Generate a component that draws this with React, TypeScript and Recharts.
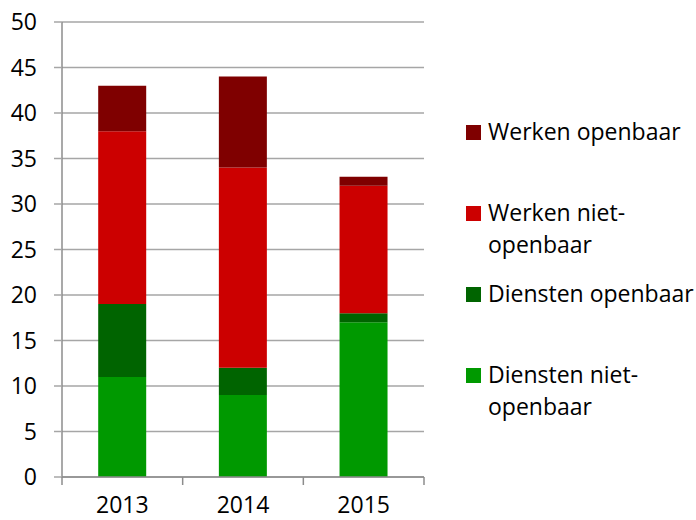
import { BarChart, Bar, XAxis, YAxis, CartesianGrid } from "recharts";

// ─── Data ────────────────────────────────────────────────────────────────────

const years = ["2013", "2014", "2015"];
const dienstenNietOpenbaar = [11, 9, 17];
const dienstenOpenbaar = [8, 3, 1];
const werkenNietOpenbaar = [19, 22, 14];
const werkenOpenbaar = [5, 10, 1];
const yTicks = [0, 5, 10, 15, 20, 25, 30, 35, 40, 45, 50];

const SERIES = [
  { key: "Diensten niet-openbaar", values: dienstenNietOpenbaar, color: "#009900" },
  { key: "Diensten openbaar", values: dienstenOpenbaar, color: "#006400" },
  { key: "Werken niet-openbaar", values: werkenNietOpenbaar, color: "#cc0000" },
  { key: "Werken openbaar", values: werkenOpenbaar, color: "#7f0000" },
];

const data = years.map((year, i) => {
  const row: Record<string, string | number> = { year };
  SERIES.forEach((s) => {
    row[s.key] = s.values[i];
  });
  return row;
});

// ─── Layout / styles ─────────────────────────────────────────────────────────

const W = 696;
const H = 520;
const MARGIN = { top: 22, right: 272, left: 0, bottom: 0 };
const Y_AXIS_W = 62;
const BAND = (W - MARGIN.right - Y_AXIS_W) / years.length;

const FONT = "'Open Sans', sans-serif";
const FONT_SIZE = 23;
const AXIS_GRAY = "#8c8c8c";
const GRID_GRAY = "#a6a6a6";
const TICK_STYLE = { fill: "#000", fontSize: FONT_SIZE, fontFamily: FONT };

// category label plus tick marks on the band edges (Excel style)
function YearTick(props: any) {
  const { x, y, payload, index } = props;
  const left = x - BAND / 2;
  return (
    <g>
      <line x1={left} y1={y} x2={left} y2={y + 8} stroke={AXIS_GRAY} strokeWidth={1.5} />
      {index === years.length - 1 && (
        <line
          x1={x + BAND / 2}
          y1={y}
          x2={x + BAND / 2}
          y2={y + 8}
          stroke={AXIS_GRAY}
          strokeWidth={1.5}
        />
      )}
      <text x={x} y={y + 36} textAnchor="middle" {...TICK_STYLE}>
        {payload.value}
      </text>
    </g>
  );
}

export default function App() {
  const legendItems = [...SERIES].reverse();

  return (
    <div
      style={{
        position: "absolute",
        left: 0,
        top: 0,
        width: W,
        height: H,
        background: "#fff",
        fontFamily: FONT,
      }}
    >
      <BarChart width={W} height={H} data={data} margin={MARGIN} barCategoryGap="30%">
        <CartesianGrid horizontal vertical={false} stroke={GRID_GRAY} strokeWidth={1.5} />
        <XAxis
          dataKey="year"
          height={43}
          tickLine={false}
          tickSize={0}
          tickMargin={0}
          axisLine={{ stroke: AXIS_GRAY, strokeWidth: 1.5 }}
          tick={<YearTick />}
          interval={0}
        />
        <YAxis
          domain={[0, 50]}
          ticks={yTicks}
          width={Y_AXIS_W}
          tick={TICK_STYLE}
          tickSize={8}
          tickMargin={17}
          tickLine={{ stroke: GRID_GRAY, strokeWidth: 1.5 }}
          axisLine={{ stroke: AXIS_GRAY, strokeWidth: 1.5 }}
        />
        {SERIES.map((s) => (
          <Bar
            key={s.key}
            dataKey={s.key}
            stackId="a"
            fill={s.color}
            isAnimationActive={false}
          />
        ))}
      </BarChart>

      {/* legend */}
      <div style={{ position: "absolute", left: 466, top: 116 }}>
        {legendItems.map((s) => (
          <div key={s.key} style={{ height: 81, display: "flex", alignItems: "flex-start" }}>
            <div
              style={{
                width: 15,
                height: 15,
                background: s.color,
                marginTop: 9,
                marginRight: 7,
                flex: "none",
              }}
            />
            <div
              style={{
                fontSize: FONT_SIZE,
                lineHeight: "32px",
                whiteSpace: "pre-line",
                color: "#000",
                marginTop: -1,
              }}
            >
              {s.key.replace("niet-", "niet-\n")}
            </div>
          </div>
        ))}
      </div>
    </div>
  );
}
